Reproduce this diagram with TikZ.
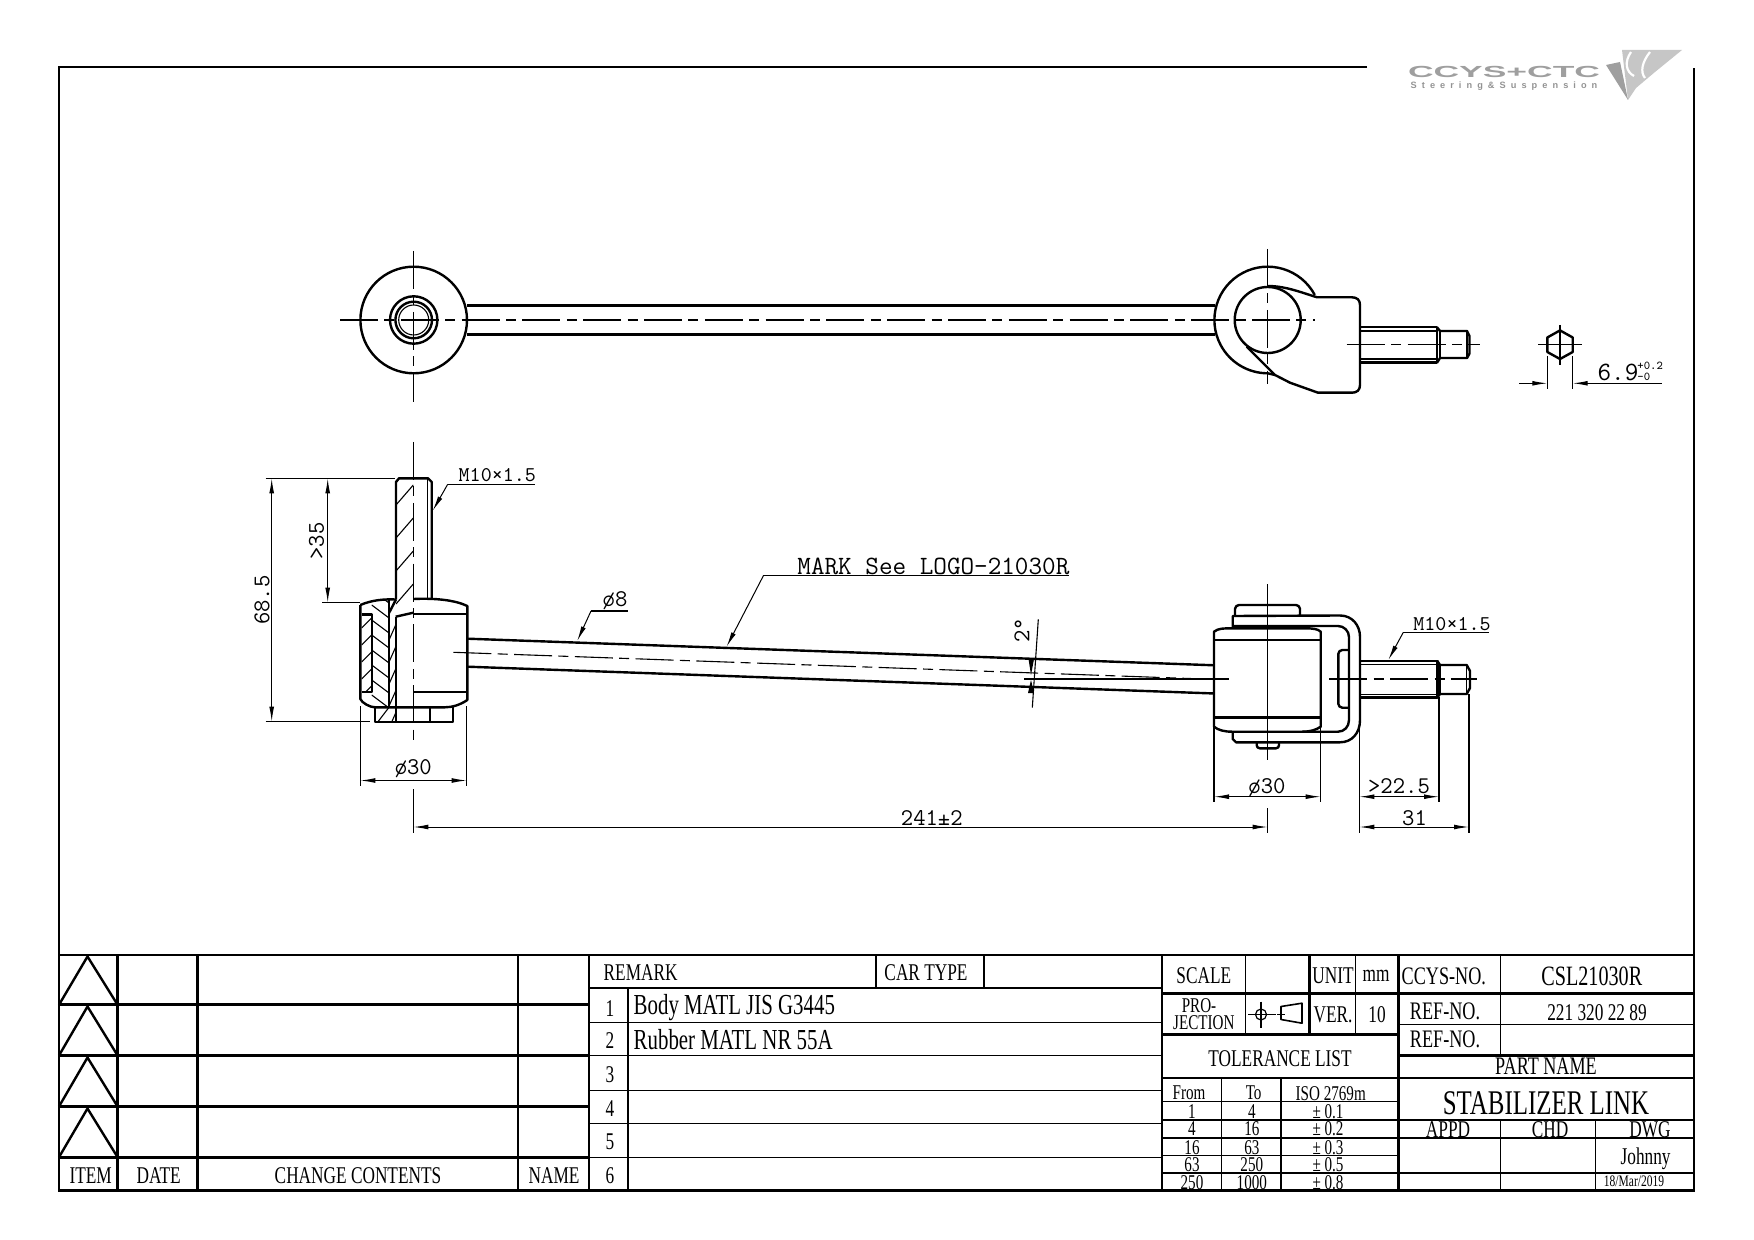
\documentclass[tikz,border=0pt]{standalone}
\usepackage{fontspec}
\setmainfont[FakeStretch=0.72]{Liberation Serif}
\newfontfamily\logofont[LetterSpace=55]{Liberation Sans}
\newfontfamily\headfont{Liberation Sans}
\usetikzlibrary{arrows.meta,positioning}
\tikzset{
    part/.style={line width=1.2pt,line join=round},
    thinline/.style={line width=0.55pt},
    centerline/.style={line width=0.55pt,dash pattern=on 19pt off 3.2pt on 5pt off 3.2pt},
    dimline/.style={line width=0.5pt,{Latex[length=7.5pt,width=2.4pt]}-{Latex[length=7.5pt,width=2.4pt]}},
    leader/.style={line width=0.5pt,-{Latex[length=7.5pt,width=2.4pt]}},
    dimtext/.style={inner sep=0pt,font=\fontsize{12}{12}\ttfamily},
    marktext/.style={inner sep=0pt,font=\fontsize{13.2}{14}\ttfamily},
    threadtext/.style={inner sep=0pt,font=\fontsize{10.5}{12}\ttfamily},
    cell/.style={inner sep=0pt,font=\fontsize{12}{13}\selectfont},
    cellref/.style={inner sep=0pt,font=\fontsize{12.6}{13}\selectfont},
    cellbig/.style={inner sep=0pt,anchor=west,font=\fontsize{14.5}{15}\selectfont},
    cellsmall/.style={inner sep=0pt,font=\fontsize{10.5}{11}\selectfont},
    framethick/.style={line width=1.4pt},
    framemid/.style={line width=0.9pt},
    framethin/.style={line width=0.6pt},
}
\begin{document}
\begin{tikzpicture}[x=0.5pt,y=-0.5pt]
    \useasboundingbox (0,0) rectangle (1754,1240);
    % sheet frame
    \draw[framethick] (1367,67) -- (59,67) -- (59,1190.5) -- (1694,1190.5) -- (1694,68);
    % logo
    \fill[gray!45] (1622,50) -- (1682,50) -- (1655,72) -- (1636,88) -- (1628,100) -- cycle;
    \fill[gray!75] (1606,65) -- (1620,62) -- (1628,100) -- cycle;
    \draw[white,line width=1.1pt] (1631,52) .. controls (1624,62) and (1626,72) .. (1634,76);
    \draw[white,line width=1.1pt] (1650,52) .. controls (1642,62) and (1640,72) .. (1645,78);
    \node[inner sep=0pt,text=gray!75] (logoname) at (1504,71.5) {\resizebox{96pt}{5.6pt}{\headfont\bfseries CCYS+CTC}};
    \node[inner sep=0pt,text=gray!85] (logosub) at (1504,86.5) {\fontsize{4.6}{5}\logofont\bfseries Steering\&Suspension};

    % top view
    \draw[part] (413.7,320) circle (53.3);
    \draw[part] (413.7,320) circle (23.7);
    \draw[part] (413.7,320) circle (18.3);
    \draw[thinline] (413.7,320) circle (15);
    \draw[part] (467,305.7) -- (1215,305.7);
    \draw[part] (467,334.5) -- (1215,334.5);
    \draw[centerline] (340,320) -- (1315,320);
    \draw[centerline] (413.7,251) -- (413.7,402);
    \draw[centerline] (1267.7,249) -- (1267.7,384);
    \draw[part] (1267.7,320) ++(-28:53.3) arc (-28:-270:53.3) -- (1275,375);
    \draw[part] (1267.7,320) circle (33);
    \draw[part] (1246.7,346.7) -- (1275,375) -- (1290,382.7) -- (1318,392.7) -- (1352,392.7)
        .. controls (1357,392.7) and (1360,390) .. (1360,385) -- (1360,305)
        .. controls (1360,300) and (1357,297.3) .. (1352,297.3) -- (1317,297.3)
        .. controls (1300,292) and (1285,286) .. (1267.7,286);
    \draw[part] (1360,327.3) -- (1437,327.3) -- (1437,362.7) -- (1360,362.7);
    \draw[thinline] (1360,331) -- (1437,331) (1360,359) -- (1437,359);
    \draw[part] (1437,327.3) -- (1440,331) -- (1467,331) -- (1469.5,336) -- (1469.5,353.5) -- (1467,358) -- (1440,358) -- (1437,362.7);
    \draw[thinline] (1440,331) -- (1440,358) (1467,331) -- (1467,358);
    \draw[centerline] (1346.7,344.7) -- (1480,344.7);

    % hexagon detail
    \draw[part] (1560,330.4) -- (1572.7,337.5) -- (1572.7,352) -- (1560,359) -- (1547.3,352) -- (1547.3,337.5) -- cycle;
    \draw[thinline] (1538,344.7) -- (1581.7,344.7) (1560,325) -- (1560,365);
    \draw[thinline] (1547.3,356) -- (1547.3,389) (1572.7,356) -- (1572.7,389);
    \draw[leader] (1519,383.3) -- (1547.3,383.3);
    \draw[leader] (1661.7,383.3) -- (1572.7,383.3);
    \node[marktext] (hexsize) at (1618,372) {6.9};
    \node[inner sep=0pt,font=\fontsize{6}{6}\ttfamily,anchor=west] (hexplus) at (1637,365.5) {+0.2};
    \node[inner sep=0pt,font=\fontsize{6}{6}\ttfamily,anchor=west] (hexminus) at (1637,377) {-0};

    % front view, left end
    \draw[part] (396,599.5) -- (396,482) -- (399,478.3) -- (428,478.3) -- (431.7,482) -- (431.7,599);
    \draw[thinline] (427.5,478.3) -- (427.5,599);
    \draw[part] (360.3,605) .. controls (372,600) and (384,599) .. (396,599.5);
    \draw[part] (413.3,599) .. controls (435,598) and (455,600) .. (467.3,606) -- (467.3,612) -- (467.3,694) -- (467.3,700)
        .. controls (460,705) and (452,707.3) .. (445,707.3) -- (375,707.3)
        .. controls (370,707.3) and (362,703) .. (360.3,699) -- (360.3,605);
    \draw[part] (361.7,614.3) -- (371.7,614.3) -- (371.7,691.7) -- (361.7,691.7);
    \draw[part] (389,600) -- (389,707.3);
    \draw[part] (395.7,616.7) -- (413.3,612.7);
    \draw[part] (395.7,616.7) -- (395.7,721.7);
    \draw[part] (413.3,614) -- (467.3,614) (413.3,691.7) -- (467.3,691.7);
    \draw[part] (375,707.3) -- (375,721.7) -- (452.7,721.7) -- (452.7,707.3);
    \draw[part] (430,707.3) -- (430,721.7);
    \draw[thinline] (413.3,707.3) -- (413.3,721.7);
    \draw[part] (389,613) -- (396,599.5);
    % hatching of the section
    \begin{scope}
        \clip (396,479) rectangle (413.3,613);
        \foreach \y in {505,538,...,640} \draw[thinline] (396,\y) -- (413.3,\y-20);
    \end{scope}
    \begin{scope}
        \clip (371.7,600) rectangle (389,707);
        \foreach \y in {590,605,...,700} \draw[thinline] (371.7,\y) -- (389,\y+13);
    \end{scope}
    \begin{scope}
        \clip (361.7,614.3) rectangle (371.7,691.7);
        \foreach \y in {628,645,...,700} \draw[thinline] (361.7,\y) -- (371.7,\y-10);
    \end{scope}
    \begin{scope}
        \clip (389,613) rectangle (395.7,721.7);
        \foreach \y in {640,662,...,730} \draw[thinline] (389,\y) -- (395.7,\y-15);
    \end{scope}
    \draw[thinline] (378,721.7) -- (389,707.3);
    \draw[centerline] (413.3,442) -- (413.3,742);
    \draw[thinline] (413.3,789) -- (413.3,832.7);

    % rod
    \draw[part] (467.6,638.7) -- (1214.8,665.3);
    \draw[part] (467.6,666.7) -- (1214.8,693.5);
    \draw[centerline] (453.3,652.3) -- (1214.8,679.4);
    \draw[thinline] (1024.3,679) -- (1229.3,679);

    % front view, right end
    \draw[part] (1214,631.7) .. controls (1218,628.3) and (1224,628.3) .. (1232,628.3) -- (1305,628.3)
        .. controls (1313,628.3) and (1318,629) .. (1320.7,631.7) -- (1320.7,726.7)
        .. controls (1316,730) and (1310,731.7) .. (1302,731.7) -- (1232,731.7)
        .. controls (1224,731.7) and (1218,730) .. (1214,726.7) -- cycle;
    \draw[part] (1214,640) -- (1320.7,640) (1214,717.3) -- (1320.7,717.3);
    \draw[part] (1232.7,628.3) -- (1232.7,616) -- (1340,615.5)
        .. controls (1352,615.5) and (1360,625) .. (1360,637) -- (1360,720)
        .. controls (1360,733) and (1352,742.3) .. (1340,742.3) -- (1236,742.3) -- (1232.7,739) -- (1232.7,731.7);
    \draw[part] (1232.7,626) -- (1338,626)
        .. controls (1344,626) and (1349,631) .. (1349,637) -- (1349,720)
        .. controls (1349,727) and (1344,731.7) .. (1338,731.7) -- (1303,731.7);
    \draw[part,rounded corners=2pt] (1235,616) -- (1235,605) -- (1300,605) -- (1300,616);
    \draw[part,rounded corners=1.5pt] (1256.7,742.3) -- (1256.7,748.3) -- (1279,748.3) -- (1279,742.3);
    \draw[part,rounded corners=2pt] (1348.3,650) -- (1338.3,650) -- (1338.3,707.7) -- (1348.3,707.7);
    \draw[part] (1360,661) -- (1437.3,661) -- (1437.3,697.3) -- (1360,697.3);
    \draw[thinline] (1360,664.5) -- (1437.3,664.5) (1360,694.5) -- (1437.3,694.5);
    \draw[part] (1437.3,661) -- (1440,665) -- (1466.7,665) -- (1470,671) -- (1470,688) -- (1466.7,694) -- (1440,694) -- (1437.3,697.3);
    \draw[thinline] (1440,665) -- (1440,694) (1466.7,665) -- (1466.7,694);
    \draw[centerline] (1329.3,679) -- (1476.7,679);
    \draw[thinline] (1267.7,584) -- (1267.7,760) (1267.7,808.3) -- (1267.7,832.7);

    % left dimensions
    \draw[thinline] (265.7,478.3) -- (395,478.3) (265.7,721.7) -- (370,721.7) (322.3,602.7) -- (360,602.7);
    \draw[dimline] (271.7,478.3) -- (271.7,721.7);
    \draw[dimline] (327.7,478.3) -- (327.7,602.7);
    \node[dimtext,rotate=90] (dimheight) at (262,600) {68.5};
    \node[dimtext,rotate=90] (dimthread) at (316.5,541) {>35};
    \draw[thinline] (360.3,706) -- (360.3,786) (466.7,706) -- (466.7,786);
    \draw[dimline] (360.3,780.5) -- (466.7,780.5);
    \node[dimtext] (dimleftdia) at (413.3,769) {\o30};
    \draw[leader] (447.7,484.3) -- (432.7,510.7);
    \draw[thinline] (447.7,484.3) -- (535,484.3);
    \node[threadtext] (threadleft) at (497.3,475) {M10\symbol{"00D7}1.5};

    % rod labels
    \draw[leader] (591,611) -- (577.2,641);
    \draw[thinline] (591,611) -- (628,611);
    \node[dimtext] (rodsize) at (615,601) {\o8};
    \draw[leader] (763.4,575.7) -- (726.6,646.7);
    \draw[thinline] (763.4,575.7) -- (1069.3,575.7);
    \node[marktext] (marktxt) at (933.4,566.5) {MARK See LOGO-21030R};
    \draw[thinline] (1038.3,619.3) -- (1032.3,707.7);
    \fill (1028.5,659) -- (1034,659) -- (1031,675) -- cycle;
    \fill (1028,693) -- (1034,693) -- (1031,680) -- cycle;
    \node[dimtext,rotate=90] (dimangle) at (1022,630) {2\symbol{"00B0}};

    % right dimensions
    \draw[thinline] (1214,727) -- (1214,802.3) (1320.7,727) -- (1320.7,802.3);
    \draw[dimline] (1214,796.7) -- (1320.7,796.7);
    \node[dimtext] (dimrightdia) at (1267,787.5) {\o30};
    \draw[thinline] (1359.3,720) -- (1359.3,832.7) (1439,697) -- (1439,801.7) (1469,694) -- (1469,832.7);
    \draw[dimline] (1359.3,796.7) -- (1439,796.7);
    \node[dimtext] (dimthreadlen) at (1399,786.5) {>22.5};
    \draw[dimline] (1359.3,827) -- (1469,827);
    \node[dimtext] (dimend) at (1414.5,818) {31};
    \draw[dimline] (413.3,827) -- (1267.7,827);
    \node[dimtext] (dimlength) at (931.8,817.5) {241\symbol{"00B1}2};
    \draw[leader] (1403.3,632.3) -- (1388.3,660);
    \draw[thinline] (1403.3,632.3) -- (1489.3,632.3);
    \node[threadtext] (threadright) at (1452,624) {M10\symbol{"00D7}1.5};

    % title block
    \begin{scope}[shift={(0,1.5)}]
    % change list
    \draw[framethick] (59,953.5) -- (1694,953.5);
    \foreach \y in {1003.3,1054,1105,1155.7} \draw[framethick] (59,\y) -- (589,\y);
    \foreach \x in {117.6,197.4,518,589} \draw[framethick] (\x,953.5) -- (\x,1189);
    \foreach \ya/\yb in {955/1003.3,1005/1054,1056/1105,1107/1155.7}
        \draw[part] (59,\yb) -- (87.5,\ya) -- (117.6,\yb);
    \node[cell] (citem) at (90.7,1174) {ITEM};
    \node[cell] (cdate) at (158.7,1174) {DATE};
    \node[cell] (cchange) at (358,1174) {CHANGE CONTENTS};
    \node[cell] (cname) at (554,1174) {NAME};

    % remarks
    \draw[framethick] (589,986.5) -- (1162,986.5);
    \foreach \y in {1020.7,1054,1088.7,1122,1155.7} \draw[framethin] (589,\y) -- (1162,\y);
    \draw[framethick] (628,986.5) -- (628,1189);
    \draw[framethick] (876,953.5) -- (876,986.5);
    \draw[framethin] (984,953.5) -- (984,986.5);
    \node[cell,anchor=west] (cremark) at (603.3,971.5) {REMARK};
    \node[cell] (ccar) at (926,971.5) {CAR TYPE};
    \foreach \n/\y in {1/1006.8,2/1039,3/1073,4/1107,5/1140,6/1174}
        \node[cell] (cn\n) at (610,\y) {\n};
    \node[cellbig] (cbody) at (633.3,1006.5) {Body MATL JIS G3445};
    \node[cellbig] (crubber) at (633.3,1038.5) {Rubber MATL NR 55A};

    % scale, projection and tolerances
    \draw[framethick] (1162,953.5) -- (1162,1189);
    \draw[framethick] (1398.4,953.5) -- (1398.4,1189);
    \draw[framethick] (1162,992.3) -- (1694,992.3);
    \draw[framethick] (1309.3,953.5) -- (1309.3,1033.3);
    \draw[framethin] (1245.3,953.5) -- (1245.3,1033.3) (1355.5,953.5) -- (1355.5,1033.3);
    \draw[framethick] (1162,1033.3) -- (1398.4,1033.3);
    \draw[framemid] (1162,1076.7) -- (1694,1076.7);
    \draw[framethin] (1162,1100) -- (1398.4,1100) (1162,1154) -- (1398.4,1154);
    \draw[framemid] (1162,1118.3) -- (1694,1118.3) (1162,1136.7) -- (1694,1136.7) (1162,1171.7) -- (1694,1171.7);
    \draw[framethin] (1221.6,1076.7) -- (1221.6,1189) (1281,1076.7) -- (1281,1189);
    \draw[framethin] (1398.4,1023.3) -- (1694,1023.3);
    \draw[framethick] (1398.4,1054) -- (1694,1054);
    \draw[framethin] (1500.2,953.5) -- (1500.2,1054) (1500.2,1118.3) -- (1500.2,1189) (1595.5,1118.3) -- (1595.5,1189);
    \node[cell] (cscale) at (1203.8,974) {SCALE};
    \node[cell] (cunit) at (1333,974) {UNIT};
    \node[cell] (cmm) at (1376,974) {mm};
    \node[cellsmall] (cpro) at (1199,1004) {PRO-};
    \node[cellsmall] (cject) at (1203.8,1021.5) {JECTION};
    \node[cell] (cver) at (1333,1013) {VER.};
    \node[cell] (cten) at (1377,1013) {10};
    \draw[framethin] (1261,1013) circle (5.5);
    \draw[framethin] (1248,1013) -- (1275.5,1013) (1261,1000) -- (1261,1026.7);
    \draw[part,line width=0.8pt] (1281,1005) -- (1302,1001.7) -- (1302,1021.7) -- (1281,1018) -- cycle;
    \draw[framethin] (1277,1013) -- (1285,1013);
    \node[cell] (ctol) at (1280,1056.7) {TOLERANCE LIST};
    \node[cellsmall] (cfrom) at (1189,1091.7) {From};
    \node[cellsmall] (cto) at (1253.6,1091.7) {To};
    \node[cellsmall] (ciso) at (1330.7,1091.7) {ISO 2769m};
    \foreach \a/\b/\c/\y in {1/4/0.1/1110,4/16/0.2/1127.5,16/63/0.3/1146,63/250/0.5/1163,250/1000/0.8/1181.5}{
        \node[cellsmall] (cf\a) at (1192,\y) {\a};
        \node[cellsmall] (ct\a) at (1251.8,\y) {\b};
        \node[cellsmall] (ci\a) at (1328,\y) {\symbol{"00B1} \c};
    }

    % numbers and part name
    \node[cellref] (cccys) at (1443.8,975) {CCYS-NO.};
    \node[inner sep=0pt,font=\fontsize{14}{15}\selectfont] (cccysno) at (1591.8,975) {CSL21030R};
    \node[cellref] (cref) at (1445,1010) {REF-NO.};
    \node[cell] (crefno) at (1597,1011) {221 320 22 89};
    \node[cellref] (crefb) at (1445,1038) {REF-NO.};
    \node[cellref] (cpart) at (1546,1065) {PART NAME};
    \node[inner sep=0pt,font=\fontsize{17.3}{18}\selectfont] (cstab) at (1546,1102) {STABILIZER LINK};
    \node[cell] (cappd) at (1448,1128) {APPD};
    \node[cell] (cchd) at (1550,1128) {CHD};
    \node[cell] (cdwg) at (1650,1128) {DWG};
    \node[cell] (cjohn) at (1645.6,1157) {Johnny};
    \node[inner sep=0pt,font=\fontsize{8}{9}\selectfont] (cdatee) at (1634,1180) {18/Mar/2019};
    \end{scope}
\end{tikzpicture}
\end{document}
